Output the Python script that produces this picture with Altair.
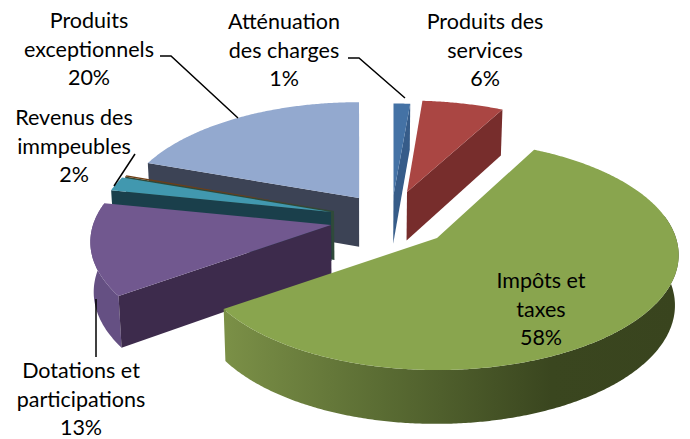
import numpy as np
import altair as alt

names = [["Atténuation", "des charges"], ["Produits des", "services"], ["Impôts et", "taxes"],
         ["Dotations et", "participations"], ["Revenus des", "immpeubles"], [], ["Produits", "exceptionnels"]]
values = [1.2, 6.4, 57.6, 13.0, 2.0, 0.2, 19.6]
top_colors = ["#4472A5", "#AA4643", "#89A54E", "#71588F", "#4198AF", "#6E3F16", "#93A9CF"]
cut_colors = ["#365C89", "#772D2C", "#89A54E", "#3D2B4C", "#1A3F4B", "#2F4A3A", "#3C4355"]
wall_colors = ["#365C89", "#772D2C", "#5A6C33", "#655083", "#1A3F4B", "#2F4A3A", "#3C4355"]

# projection geometry of each exploded slice (screen apex, radii)
apex = [(393.5, 195), (407, 192), (437, 238), (331, 225), (331, 212), (334, 211), (359, 198)]
rad_x = [255, 235, 239, 238, 231, 231, 235]
rad_y = [105, 105, 112.5, 112.5, 112.5, 112.5, 110]
PERSP = 0.148
OFF = 8  # page margin


def top_pt(i, t):
    r = np.radians(t)
    w = 1 + PERSP * np.cos(r)
    return (apex[i][0] + rad_x[i] * np.sin(r) / w, apex[i][1] - rad_y[i] * np.cos(r) / w)


def low_pt(p):
    return (p[0] + (370 - p[0]) * 0.012, p[1] + 46 + (p[1] - 109) * 0.03)


def feature(pts, fill):
    ring = [[float(x - OFF), float(y - OFF)] for x, y in pts]
    ring.append(ring[0])
    return {"type": "Feature", "properties": {"fill": fill},
            "geometry": {"type": "Polygon", "coordinates": [ring]}}


def line(pts):
    return {"type": "Feature", "properties": {},
            "geometry": {"type": "LineString",
                         "coordinates": [[float(x - OFF), float(y - OFF)] for x, y in pts]}}


total = sum(values)
edges = np.concatenate([[0], np.cumsum(values)]) / total * 360
back, green_wall, green_top = [], [], []
for i in [6, 5, 4, 3, 0, 1, 2]:
    t0, t1 = edges[i], edges[i + 1]
    ts = np.arange(t0, t1, 0.5).tolist() + [t1]
    a = tuple(map(float, apex[i]))
    group = green_wall if i == 2 else back
    # outer wall: only the part of the rim that faces the viewer
    vis = [t for t in ts if 78 <= t <= 282]
    if len(vis) > 1:
        tp = [top_pt(i, t) for t in vis]
        wall = tp + [low_pt(p) for p in reversed(tp)]
        group.append(feature(wall, wall_colors[i]))
    # cut faces turned to the viewer
    if np.sin(np.radians(t0)) < -1e-6:
        e = top_pt(i, t0)
        back.append(feature([a, e, low_pt(e), low_pt(a)], cut_colors[i]))
    if np.sin(np.radians(t1)) > 1e-6:
        e = top_pt(i, t1)
        back.append(feature([a, e, low_pt(e), low_pt(a)], cut_colors[i]))
    if i == 6:
        e = top_pt(i, t1)
        back.append(feature([a, e, low_pt(e), low_pt(a)], "#7F94B8"))
    face = feature([a] + [top_pt(i, t) for t in ts], top_colors[i])
    (green_top if i == 2 else back).append(face)

leaders = [line(p) for p in [
    [(160, 56), (171, 56), (238, 118)],
    [(348, 58), (359, 58), (405, 98)],
    [(135, 154), (114, 186)],
    [(96, 299), (96, 357)],
]]

label_pos = {0: (284, 23), 1: (485, 23), 2: (541, 282), 3: (81, 372), 4: (74, 119), 6: (89, 22)}
rows = []
for i, lines in enumerate(names):
    if not lines:
        continue
    x, y = label_pos[i]
    for j, s in enumerate(lines + [f"{round(values[i])}%"]):
        rows.append({"lon": x - OFF, "lat": y + j * 28.5 - OFF, "txt": s})

proj = dict(type="identity", scale=1, translate=[0, 0])
fillenc = alt.Fill("properties.fill:N", scale=None, legend=None)

base = alt.Chart(alt.Data(values=back)).mark_geoshape(strokeWidth=0).encode(fill=fillenc).project(**proj)
gwall = alt.Chart(alt.Data(values=green_wall)).mark_geoshape(
    strokeWidth=0,
    fill=alt.LinearGradient(gradient="linear", x1=0, x2=1, y1=0, y2=0, stops=[
        alt.GradientStop(color="#7B9047", offset=0),
        alt.GradientStop(color="#5A6C33", offset=0.35),
        alt.GradientStop(color="#3A461F", offset=0.72),
        alt.GradientStop(color="#39441E", offset=1),
    ])).project(**proj)
gtop = alt.Chart(alt.Data(values=green_top)).mark_geoshape(strokeWidth=0).encode(fill=fillenc).project(**proj)
lead = alt.Chart(alt.Data(values=leaders)).mark_geoshape(
    filled=False, stroke="black", strokeWidth=1.5).project(**proj)
text = alt.Chart(alt.Data(values=rows)).mark_text(
    font="Lato", fontSize=21.5, color="black", align="center", baseline="middle"
).encode(longitude="lon:Q", latitude="lat:Q", text="txt:N").project(**proj)

chart = alt.layer(base, gwall, gtop, lead, text).properties(
    width=674, height=431, padding=0, autosize=alt.AutoSizeParams(type="none"),
    background="white",
).configure_view(stroke=None)

chart.save("out.html", embed_options={"renderer": "svg", "actions": False})
